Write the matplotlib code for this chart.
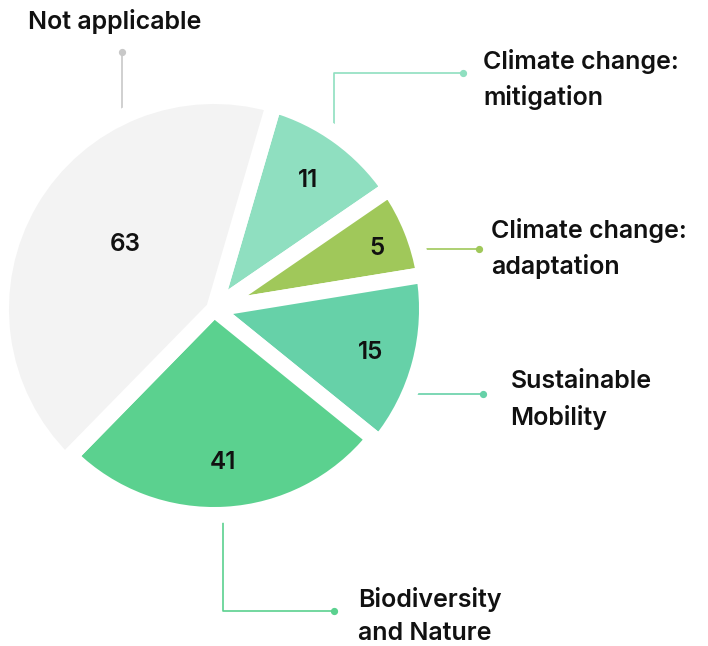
import numpy as np
import matplotlib
matplotlib.use("Agg")
import matplotlib.pyplot as plt
from matplotlib import font_manager as fm
from matplotlib.font_manager import FontProperties

# ---- data ----
categories = ["Climate change:\nmitigation", "Climate change:\nadaptation",
              "Sustainable\nMobility", "Biodiversity\nand Nature", "Not applicable"]
counts = [11, 5, 15, 41, 63]
# share of the circle each wedge covers in the reference (%)
slice_share_pct = [10.9, 7.0, 13.4, 26.5, 42.2]

# ---- style ----
colors = ["#8FDFC0", "#A0C85A", "#66D1A8", "#5BD18F", "#F3F3F3"]
line_colors = ["#8FDFC0", "#A0C85A", "#66D1A8", "#5BD18F", "#C8C8C8"]
W, H = 708, 646


def inter(style, size, weight):
    for f in fm.fontManager.ttflist:
        if f.fname.endswith(f"Inter-{style}.otf"):
            return FontProperties(fname=f.fname, size=size)
    return FontProperties(family=["Inter", "DejaVu Sans"], weight=weight, size=size)


label_font = inter("SemiBold", 18, 600)
num_font = inter("SemiBold", 17.5, 600)

fig = plt.figure(figsize=(W / 100, H / 100), dpi=100)
ax = fig.add_axes([0, 0, 1, 1])


def P(x, y):
    return x, H - y


cx, cy = P(214, 309)
R = 213
wedges, _ = ax.pie(slice_share_pct, colors=colors, startangle=73.7, counterclock=False,
                   radius=R, center=(cx, cy),
                   wedgeprops=dict(edgecolor="white", linewidth=11.5, zorder=3))
wedges[3].set_radius(206)   # the bottom wedge is drawn slightly smaller in the reference
ax.set_xlim(0, W)
ax.set_ylim(0, H)
ax.set_aspect("equal")
ax.axis("off")

# value labels inside wedges
label_frac = [0.749, 0.817, 0.765, 0.72, 0.515]
label_dang = [-0.2, -1.4, -0.8, 0.0, -5.4]
for w, n, f, da in zip(wedges, counts, label_frac, label_dang):
    mid = np.deg2rad((w.theta1 + w.theta2) / 2 + da)
    ax.text(cx + f * R * np.cos(mid), cy + f * R * np.sin(mid), str(n),
            ha="center", va="center", fontproperties=num_font,
            color="#111111", zorder=5)

# leader lines (pixel positions, y down) and label anchors (last-line baseline)
leaders = [
    [(334, 140), (334, 73), (463, 73)],
    [(413, 249), (479, 249)],
    [(396, 394), (483, 394)],
    [(223, 500), (223, 611), (334, 611)],
    [(122, 122), (122, 52)],
]
label_pos = [(483, 105), (491, 274), (510.5, 424.5), (358, 640), (27.5, 29.5)]

for pts, lc, lab, lp in zip(leaders, line_colors, categories, label_pos):
    xs, ys = zip(*[P(*p) for p in pts])
    ax.plot(xs, ys, color=lc, lw=1.2, zorder=1, solid_capstyle="butt")
    ax.plot([xs[-1]], [ys[-1]], "o", color=lc, ms=4.2, zorder=2)
    ax.text(*P(*lp), lab, ha="left", va="baseline", fontproperties=label_font,
            color="#111111", linespacing=1.55, zorder=5)

fig.savefig("out.png", dpi=100)
